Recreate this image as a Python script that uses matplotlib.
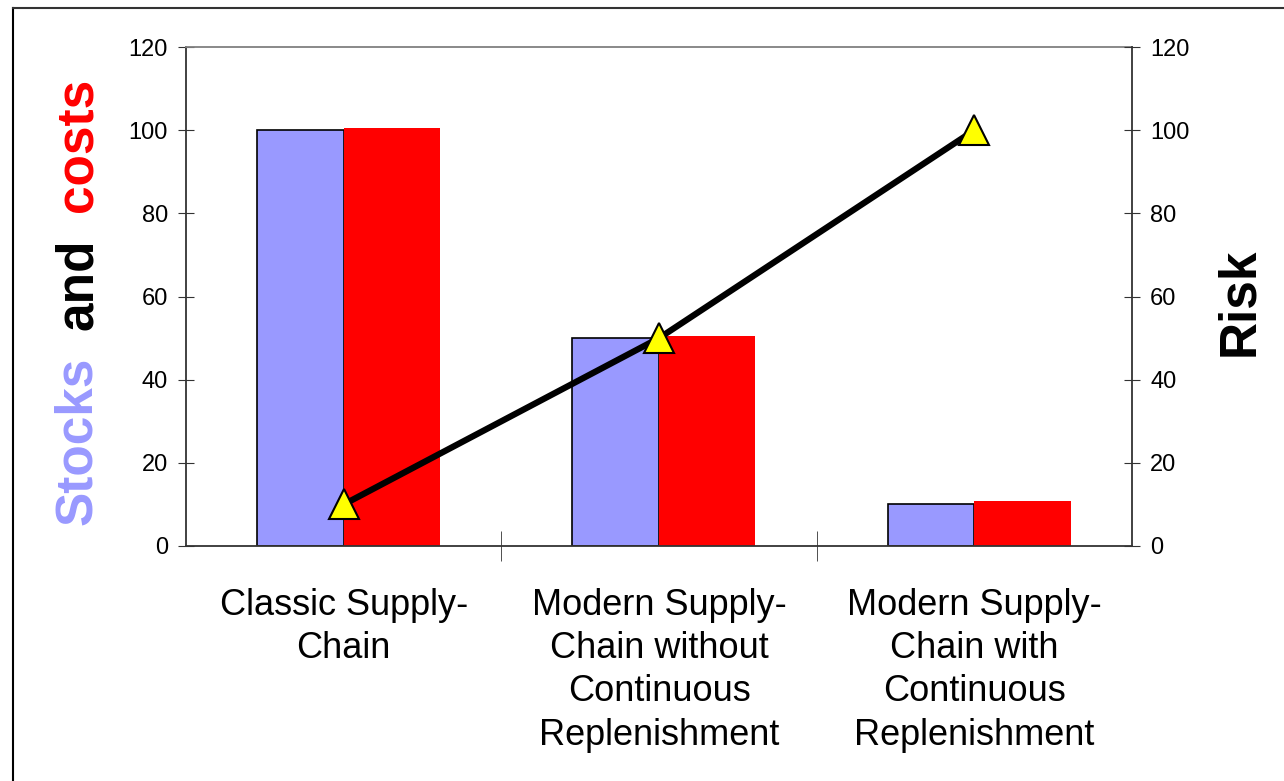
import numpy as np
import matplotlib.pyplot as plt
from matplotlib.lines import Line2D

plt.rcParams['font.family'] = ['Liberation Sans', 'DejaVu Sans']

## dados
categorias = ['Classic Supply-\nChain',
              'Modern Supply-\nChain without\nContinuous\nReplenishment',
              'Modern Supply-\nChain with\nContinuous\nReplenishment']
stocks = [100, 50, 10]
costs = [100.5, 50.4, 10.8]
risk = [10, 50, 100]
yticks = [0, 20, 40, 60, 80, 100, 120]

x = np.arange(len(categorias))

fig = plt.figure(figsize=(12.84, 7.81), dpi=100)
ax = fig.add_axes([0.1449, 0.3009, 0.7368, 0.6389])

## barras
ax.bar(x - 0.275, stocks, width=0.275, align='edge', color='#9999FF',
       edgecolor='black', linewidth=1.2, zorder=2)
ax.bar(x, costs, width=0.305, align='edge', color='#FF0000',
       edgecolor='none', zorder=2)

ax.set_xlim(-0.5, 2.5)
ax.set_ylim(0, 120)
ax.set_yticks(yticks)
ax.set_xticks(x)
ax.set_xticklabels(categorias, fontsize=26, linespacing=1.31)
ax.set_xticks([0.5, 1.5], minor=True)
ax.tick_params(axis='x', which='major', length=0, pad=30)
ax.tick_params(axis='x', which='minor', length=22, direction='inout', color='#333333')
ax.tick_params(axis='y', labelsize=17, direction='inout', length=12, color='#333333', pad=7)

for s in ['left', 'bottom']:
    ax.spines[s].set_color('#333333')
    ax.spines[s].set_linewidth(1.3)
ax.spines['top'].set_color('#808080')
ax.spines['top'].set_linewidth(1.3)
ax.spines['right'].set_visible(False)

## risco
ax2 = ax.twinx()
ax2.plot(x, risk, color='black', lw=4.5, marker='^', markersize=21,
         markerfacecolor='#FFFF00', markeredgecolor='black', markeredgewidth=1.5, zorder=3)
ax2.set_ylim(0, 120)
ax2.set_yticks(yticks)
ax2.tick_params(axis='y', labelsize=17, direction='inout', length=12, color='#333333', pad=7)
ax2.spines['right'].set_color('#333333')
ax2.spines['right'].set_linewidth(1.3)
for s in ['left', 'top', 'bottom']:
    ax2.spines[s].set_visible(False)

## rotulos dos eixos
fig.text(78 / 1284, 1 - 441 / 781, 'Stocks', color='#9999FF', fontsize=37,
         fontweight='bold', rotation=90, ha='center', va='center')
fig.text(78 / 1284, 1 - 284 / 781, 'and', color='black', fontsize=37,
         fontweight='bold', rotation=90, ha='center', va='center')
fig.text(78 / 1284, 1 - 145 / 781, 'costs', color='#FF0000', fontsize=37,
         fontweight='bold', rotation=90, ha='center', va='center')
fig.text(1240 / 1284, 1 - 302 / 781, 'Risk', color='black', fontsize=37,
         fontweight='bold', rotation=90, ha='center', va='center')

## moldura
fig.add_artist(Line2D([0.0105, 0.0105], [0, 0.9895], transform=fig.transFigure,
                      color='black', lw=1.5))
fig.add_artist(Line2D([0.0105, 1], [0.9895, 0.9895], transform=fig.transFigure,
                      color='#333333', lw=1.5))

plt.savefig('out.png', dpi=100)
